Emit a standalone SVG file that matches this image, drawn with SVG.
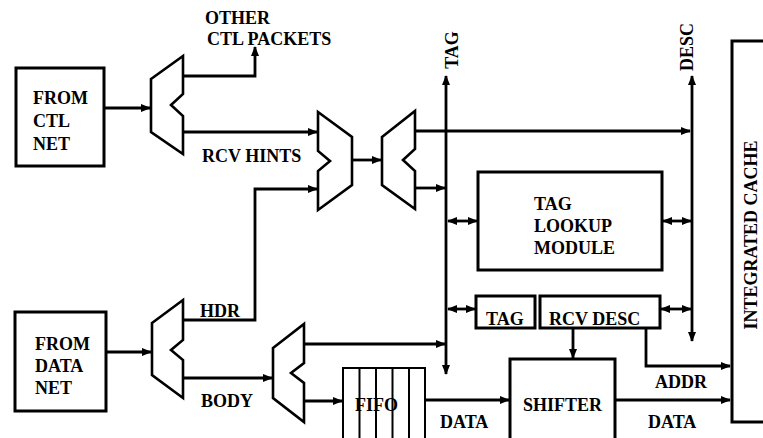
<svg xmlns="http://www.w3.org/2000/svg" width="763" height="438" viewBox="0 0 763 438">
<style>
.t{font-family:"Liberation Serif","Times New Roman",serif;font-weight:bold;font-size:18px;fill:#000}
.box{fill:none;stroke:#000;stroke-width:3}
.mux{fill:#fff;stroke:#000;stroke-width:2.6;stroke-linejoin:miter}
.c{fill:none;stroke:#000;stroke-width:2.8}
.a{marker-end:url(#ah)}
.d{marker-start:url(#ah);marker-end:url(#ah)}
.fifo{fill:none;stroke:#000;stroke-width:2}
</style>
<defs>
<marker id="ah" viewBox="0 0 10 8" refX="9" refY="4" markerWidth="10" markerHeight="8" markerUnits="userSpaceOnUse" orient="auto-start-reverse"><path d="M0,0 L10,4 L0,8 z" fill="#000"/></marker>
</defs>
<rect width="763" height="438" fill="#fff"/>
<g id="connectors">
<path class="c a" d="M104,108 H150"/>
<path class="c a" d="M183,76 H255 V47"/>
<path class="c a" d="M183,132 H317"/>
<path class="c a" d="M352,160 H381"/>
<path class="c a" d="M415,131 H690"/>
<path class="c a" d="M415,188 H445"/>
<path class="c d" d="M446,374 V76"/>
<path class="c d" d="M692,341 V76"/>
<path class="c d" d="M448,221 H477"/>
<path class="c d" d="M663,221 H691"/>
<path class="c d" d="M448,309 H475"/>
<path class="c d" d="M661,309 H691"/>
<path class="c a" d="M573,328 V358"/>
<path class="c a" d="M646,328 V366 H730"/>
<path class="c a" d="M615,400 H730"/>
<path class="c a" d="M425,400 H509"/>
<path class="c a" d="M304,344 H445"/>
<path class="c a" d="M304,401 H342"/>
<path class="c a" d="M106,352 H151"/>
<path class="c a" d="M183,320 H255 V189 H317"/>
<path class="c a" d="M183,378 H272"/>
</g>
<g id="from-ctl-net">
<rect class="box" x="16" y="68" width="88" height="98"/>
<text class="t" x="33" y="104">FROM</text>
<text class="t" x="33" y="127">CTL</text>
<text class="t" x="33" y="150">NET</text>
</g>
<g id="from-data-net">
<rect class="box" x="15" y="312" width="91" height="99"/>
<text class="t" x="35" y="350">FROM</text>
<text class="t" x="35" y="372">DATA</text>
<text class="t" x="35" y="394">NET</text>
</g>
<g id="mux-ctl">
<polygon class="mux" points="151,79 183,56 183,94 171,105 183,116 183,154 151,132"/>
</g>
<g id="mux-hints">
<polygon class="mux" points="318,112 352,137 352,185 318,210 318,171 330,161 318,151"/>
</g>
<g id="mux-tag">
<polygon class="mux" points="382,137 415,111 415,149 403,160 415,171 415,209 382,185"/>
</g>
<g id="mux-data">
<polygon class="mux" points="152,323 183,300 183,340 171,350 183,360 183,398 152,375"/>
</g>
<g id="mux-body">
<polygon class="mux" points="273,348 304,324 304,363 291,373 304,383 304,422 273,398"/>
</g>
<g id="labels">
<text class="t" x="205" y="24">OTHER</text>
<text class="t" x="207" y="45">CTL PACKETS</text>
<text class="t" x="202" y="162">RCV HINTS</text>
<text class="t" x="200" y="317">HDR</text>
<text class="t" x="201" y="407">BODY</text>
<text class="t" transform="translate(458,50) rotate(-90)" text-anchor="middle" font-size="17">TAG</text>
<text class="t" transform="translate(693,47) rotate(-90)" text-anchor="middle">DESC</text>
<text class="t" x="655" y="388">ADDR</text>
<text class="t" x="440" y="428">DATA</text>
<text class="t" x="648" y="428">DATA</text>
</g>
<g id="tag-lookup">
<rect class="box" x="478" y="172" width="184" height="98"/>
<text class="t" x="534" y="210">TAG</text>
<text class="t" x="534" y="232">LOOKUP</text>
<text class="t" x="534" y="254">MODULE</text>
</g>
<g id="tag-reg">
<rect class="box" x="476" y="296" width="59" height="32"/>
<text class="t" x="486" y="325">TAG</text>
</g>
<g id="rcv-desc">
<rect class="box" x="540" y="296" width="120" height="32"/>
<text class="t" x="549" y="325">RCV DESC</text>
</g>
<g id="fifo">
<path class="fifo" d="M343,440 V368 H425 V440"/>
<path class="fifo" d="M359.5,368 V440 M376,368 V440 M392.5,368 V440 M409,368 V440"/>
<text class="t" x="355" y="411">FIFO</text>
</g>
<g id="shifter">
<path class="box" d="M510,442 V359 H615 V442"/>
<text class="t" x="523" y="411">SHIFTER</text>
</g>
<g id="integrated-cache">
<path class="box" d="M765,41 H732 V422 H765"/>
<text class="t" transform="translate(757,235) rotate(-90)" text-anchor="middle" font-size="19">INTEGRATED CACHE</text>
</g>
</svg>
